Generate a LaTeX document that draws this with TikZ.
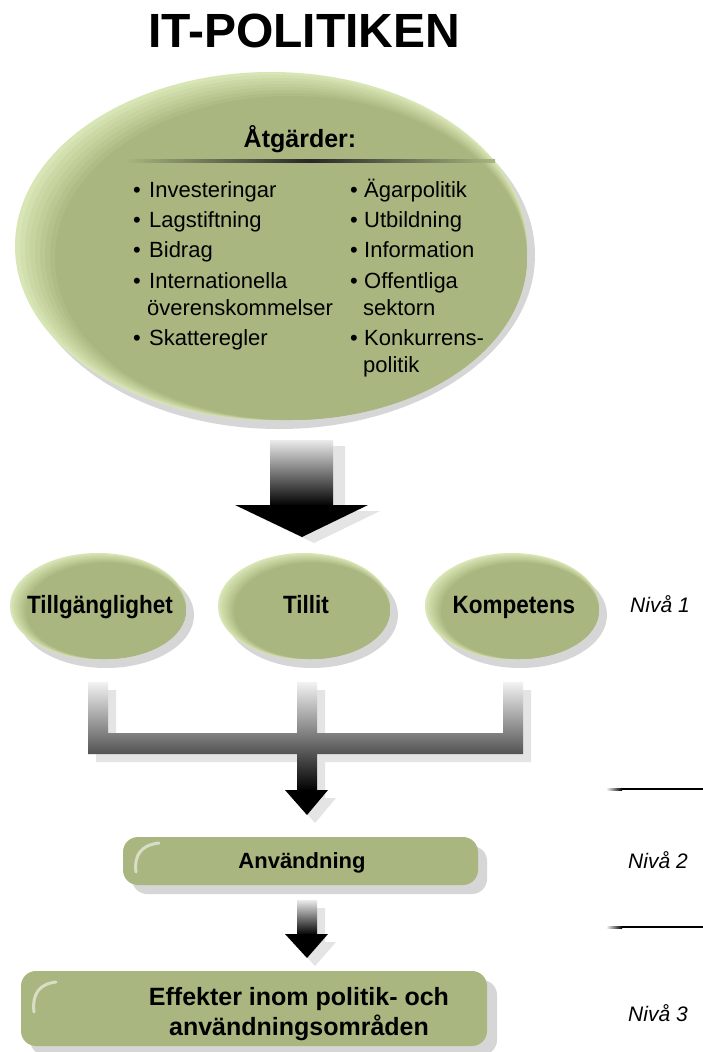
\documentclass[tikz,border=0pt]{standalone}
\usepackage{fontspec}
\setmainfont{Liberation Sans}
\newfontfamily\condfont[FakeStretch=0.9]{Liberation Sans}
\usetikzlibrary{shapes.geometric,calc}
\definecolor{leafgreen}{HTML}{A9B67F}
\definecolor{hilite}{HTML}{D8E5B4}
\definecolor{shadowgray}{HTML}{D6D6D6}
\definecolor{lightshadow}{HTML}{E4E4E4}
\tikzset{
  greenfill/.style={fill=leafgreen, draw=none},
  ellnode/.style={ellipse, greenfill, inner sep=0pt},
  roundbox/.style={rectangle, rounded corners=15pt, greenfill, inner sep=0pt},
  listtext/.style={font=\fontsize{22}{26}\selectfont, anchor=base west, inner sep=0pt},
  levellabel/.style={font=\itshape\fontsize{21}{24}\selectfont, anchor=base west, inner sep=0pt},
  ellabel/.style={font=\condfont\bfseries\fontsize{25}{28}\selectfont, anchor=base, inner sep=0pt},
  boxlabel/.style={font=\bfseries\fontsize{22}{26}\selectfont, anchor=base, inner sep=0pt},
  glint/.style={draw=white, opacity=0.55, line width=3pt, line cap=round},
}
% soft ellipse: name, cx, cy, rx, ry, band
\newcommand\softell[6]{%
  \pgfmathsetmacro\sxa{#2+8}\pgfmathsetmacro\sya{#3+9}%
  \fill[shadowgray] (\sxa,\sya) ellipse [x radius=#4pt, y radius=#5pt];
  \foreach \k in {0,...,7}{%
    \pgfmathsetmacro\tt{\k/8}%
    \pgfmathsetmacro\pct{int(100*\tt)}%
    \pgfmathsetmacro\lcx{#2+#6*\tt}\pgfmathsetmacro\lcy{#3+#6*0.6*\tt}%
    \pgfmathsetmacro\lrx{#4-#6*\tt}\pgfmathsetmacro\lry{#5-#6*0.6*\tt}%
    \fill[leafgreen!\pct!hilite] (\lcx,\lcy) ellipse [x radius=\lrx pt, y radius=\lry pt];
  }
  \pgfmathsetmacro\gcx{#2+#6}\pgfmathsetmacro\gcy{#3+#6*0.6}%
  \pgfmathsetmacro\gw{2*(#4-#6)}\pgfmathsetmacro\gh{2*(#5-#6*0.6)}%
  \node[ellnode, minimum width=\gw pt, minimum height=\gh pt] (#1) at (\gcx,\gcy) {};
}
\begin{document}
\begin{tikzpicture}[x=1pt,y=-1pt]
\useasboundingbox[fill=white] (0,0) rectangle (703,1052);

% title
\node[font=\bfseries\fontsize{48}{52}\selectfont, anchor=base, inner sep=0pt] (title) at (304,47) {IT-POLITIKEN};

% big ellipse
\softell{atg}{271}{246}{256}{174}{20}
\node[font=\bfseries\fontsize{25}{28}\selectfont, anchor=base, inner sep=0pt] (atghead) at (300,147) {Åtgärder:};
\shade[left color=leafgreen, right color=leafgreen, middle color=black!85] (125,159.8) rectangle (495,162.4);

\foreach \t/\y [count=\i] in {Investeringar/197, Lagstiftning/227, Bidrag/257, Internationella/288, Skatteregler/345}{
  \node[listtext] (lb\i) at (133,\y) {•};
  \node[listtext] (lt\i) at (149,\y) {\t};
}
\node[listtext] (lt6) at (147,315) {överenskommelser};
\foreach \t/\y [count=\i] in {Ägarpolitik/197, Utbildning/227, Information/257, Offentliga/288, Konkurrens-/345}{
  \node[listtext] (rb\i) at (350,\y) {•};
  \node[listtext] (rt\i) at (364,\y) {\t};
}
\node[listtext] (rt6) at (363,315) {sektorn};
\node[listtext] (rt7) at (363,372) {politik};

% big arrow
\fill[lightshadow] (282,446) -- (345,446) -- (345,511) -- (380,511) -- (314,543) -- (247,511) -- (282,511) -- cycle;
\shade[top color=black!8, bottom color=black] (270,440) rectangle (333,506);
\fill[black] (235,505) -- (368,505) -- (302,537) -- cycle;

% level-1 ellipses
\softell{till}{98}{606}{88}{53}{8}
\softell{tillit}{304}{606}{86}{53}{8}
\softell{komp}{512}{606}{87}{53}{8}
\node[ellabel] (tilltext) at (100,613) {Tillgänglighet};
\node[ellabel] (tillittext) at (306,613) {Tillit};
\node[ellabel] (komptext) at (514,613) {Kompetens};
\node[levellabel] (niva1) at (630,612) {Nivå 1};

% connector shadow
\fill[lightshadow] (96,690) -- (116,690) -- (116,741) -- (305,741) -- (305,690) -- (325,690) -- (325,741) -- (511,741) -- (511,690) -- (531,690) -- (531,762) -- (325,762) -- (325,798) -- (336,798) -- (315,823) -- (293,798) -- (305,798) -- (305,762) -- (96,762) -- cycle;
% connector
\shade[top color=black!5, middle color=black!58, bottom color=black]
  (88,682) -- (108,682) -- (108,733) -- (297,733) -- (297,682) -- (317,682) -- (317,733) -- (503,733) -- (503,682) -- (523,682) -- (523,754) -- (317,754) -- (317,791) -- (297,791) -- (297,754) -- (88,754) -- cycle;
\fill[black] (285,790) -- (328,790) -- (307,815) -- cycle;

% level separators
\shade[left color=white, right color=black] (606,788.2) rectangle (622,790);
\fill[black] (621.5,788.2) rectangle (703,790);
\shade[left color=white, right color=black] (606,926.2) rectangle (622,928);
\fill[black] (621.5,926.2) rectangle (703,928);

% Anvandning box
\fill[shadowgray, rounded corners=15pt] (132,846) rectangle (487,894);
\node[roundbox, minimum width=355pt, minimum height=48pt] (anv) at (300.5,861) {};
\draw[glint] (136,872) .. controls (134,855) and (141,845) .. (159,843);
\node[boxlabel] (anvtext) at (302,868) {Användning};
\node[levellabel] (niva2) at (628,868) {Nivå 2};

% arrow 2
\fill[lightshadow] (305,908) -- (325,908) -- (325,942) -- (336,942) -- (315,966) -- (293,942) -- (305,942) -- cycle;
\shade[top color=black!8, bottom color=black] (297,900) rectangle (317,935);
\fill[black] (285,934) -- (328,934) -- (307,958) -- cycle;

% Effekter box
\fill[shadowgray, rounded corners=15pt] (30,980) rectangle (497,1055);
\node[roundbox, minimum width=466pt, minimum height=75pt] (eff) at (254,1008.5) {};
\draw[glint] (34,1012) .. controls (32,994) and (39,984) .. (56,982);
\node[font=\bfseries\fontsize{25}{30}\selectfont, align=center, anchor=base, inner sep=0pt] (efftext) at (299,1035) {Effekter inom politik- och\\användningsområden};
\node[levellabel] (niva3) at (628,1021) {Nivå 3};
\end{tikzpicture}
\end{document}
